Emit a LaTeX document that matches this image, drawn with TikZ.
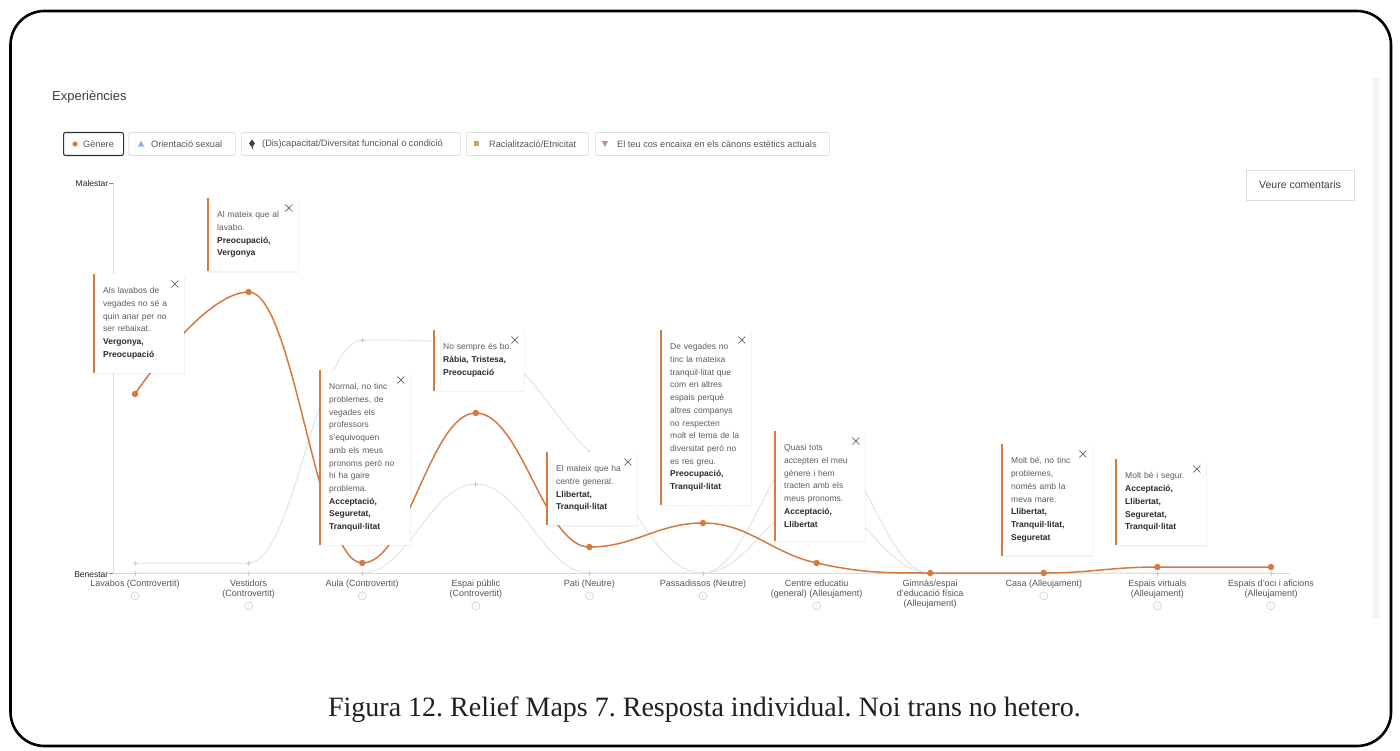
\documentclass[tikz,border=0pt]{standalone}
\usepackage{fontspec}
\setmainfont{Liberation Sans}
\newfontfamily\capfont{Liberation Serif}
\usetikzlibrary{shadows,calc}
\frenchspacing
\definecolor{orng}{HTML}{D5793F}
\definecolor{grayln}{HTML}{E4E4E4}
\definecolor{graymk}{HTML}{CCCCCC}
\definecolor{bodyc}{HTML}{5C5C5C}
\definecolor{boldc}{HTML}{2B2B2B}
\definecolor{axc}{HTML}{DADADA}
\definecolor{labc}{HTML}{555555}
\definecolor{headc}{HTML}{3F3F3F}
\definecolor{legbd}{HTML}{DDDDDD}
\definecolor{capc}{HTML}{231F20}
\definecolor{blueic}{HTML}{8DB3E2}
\definecolor{darkic}{HTML}{3A4A3A}
\definecolor{tanic}{HTML}{C9A45E}
\definecolor{pinkic}{HTML}{C48B9F}
\definecolor{stripc}{HTML}{F3F3F3}
\tikzset{
  tip/.style={anchor=north west, fill=white, text width=72pt, inner xsep=9pt, inner ysep=13.5pt, align=left, font=\fontsize{8.5}{12.7}\selectfont, text=bodyc, drop shadow={shadow xshift=0.6pt, shadow yshift=-1.6pt, opacity=0.10}},
  tipbar/.style={draw=orng, line width=2.4pt},
  closex/.style={draw=black!60, line width=0.6pt},
  grayline/.style={draw=grayln, line width=1pt},
  orngline/.style={draw=orng, line width=1.5pt},
  legbox/.style={draw=legbd, line width=0.7pt, rounded corners=1.5pt, minimum height=23pt, inner sep=0pt, anchor=west},
  legtxt/.style={font=\fontsize{9.2}{11}\selectfont, text=labc, inner sep=0pt, anchor=west},
  catlab/.style={font=\fontsize{9}{10}\selectfont, text=labc, align=center, inner sep=0pt, anchor=north},
  info/.style={circle, draw=graymk, line width=0.6pt, minimum size=8pt, inner sep=0pt},
  gmark/.style={draw=graymk, line width=0.8pt},
}
\newcommand\tipdeco[1]{%
  \draw[tipbar] (#1.north west) -- (#1.south west);
  \draw[closex] ($(#1.north east)+(-13,6.5)$) -- ++(7,7);
  \draw[closex] ($(#1.north east)+(-6,6.5)$) -- ++(-7,7);
}
\newcommand\gplus[2]{\draw[gmark] (#1-2.5,#2) -- (#1+2.5,#2) (#1,#2-2.5) -- (#1,#2+2.5);}
\begin{document}
\begin{tikzpicture}[x=1pt,y=-1pt]
\useasboundingbox (0,0) rectangle (1400,751);
\fill[white] (0,0) rectangle (1400,751);
% outer frame
\draw[line width=2.6pt, rounded corners=34pt] (10.5,11) rectangle (1391,746);
\fill[stripc] (1373,78) rectangle (1379,618);

% title
\node[anchor=west, font=\fontsize{13}{15}\selectfont, text=headc, inner sep=0pt] (title) at (52,97) {Experiències};

% legend
\node[legbox, draw=black!80, line width=1.1pt, rounded corners=2pt, minimum width=60pt] (lg1) at (63,144) {};
\node[legbox, minimum width=107pt] (lg2) at (128,144) {};
\node[legbox, minimum width=219pt] (lg3) at (241,144) {};
\node[legbox, minimum width=122pt] (lg4) at (466,144) {};
\node[legbox, minimum width=234pt] (lg5) at (595,144) {};
\fill[orng] (75,144) circle[radius=2.6pt];
\fill[blueic] (141,140.8) -- (144.2,146.6) -- (137.8,146.6) -- cycle;
\fill[darkic] (252,139.5) -- (255,143.5) -- (252,147.5) -- (249,143.5) -- cycle;
\draw[darkic, line width=0.8pt] (252,144) -- (252,149.5);
\fill[tanic] (473.5,141) rectangle (478.5,146);
\fill[pinkic] (601.8,141.2) -- (608.2,141.2) -- (605,146.8) -- cycle;
\node[legtxt] (lt1) at (83,144) {Gènere};
\node[legtxt] (lt2) at (151,144) {Orientació sexual};
\node[legtxt] (lt3) at (262,144) {(Dis)capacitat/Diversitat funcional o condició};
\node[legtxt] (lt4) at (489,144) {Racialització/Etnicitat};
\node[legtxt] (lt5) at (617,144) {El teu cos encaixa en els cànons estètics actuals};

% button
\node[draw=legbd, line width=0.8pt, minimum width=108pt, minimum height=30pt, font=\fontsize{10.5}{12}\selectfont, text=headc, drop shadow={shadow xshift=0.4pt, shadow yshift=-1pt, opacity=0.06}, fill=white] (btn) at (1300,185) {Veure comentaris};

% axes
\draw[axc, line width=0.8pt] (113,183) -- (113,573);
\draw[axc, line width=0.8pt] (113,573) -- (1290,573);
\draw[black!50, line width=0.6pt] (109,183) -- (113,183);
\draw[black!50, line width=0.6pt] (109,573) -- (113,573);
\node[anchor=east, font=\fontsize{8.5}{10}\selectfont, text=black!85, inner sep=0pt] (mal) at (108.5,183) {Malestar};
\node[anchor=east, font=\fontsize{8.5}{10}\selectfont, text=black!85, inner sep=0pt] (ben) at (108.5,575) {Benestar};

% gray series A
\draw[grayline] (135,563) -- (248.6,563)
  .. controls (294.04,563) and (316.76,340) .. (362.2,340)
  .. controls (407.64,340) and (430.36,340) .. (475.8,345)
  .. controls (521.24,350) and (543.96,406.4) .. (589.4,452)
  .. controls (634.84,497.6) and (657.56,573) .. (703,573)
  .. controls (748.44,573) and (771.16,440) .. (816.6,440)
  .. controls (862.04,440) and (884.76,573) .. (930.2,573)
  -- (1271,573);
% gray series B
\draw[grayline] (135,573) -- (362.2,573)
  .. controls (407.64,573) and (430.36,484) .. (475.8,484)
  .. controls (521.24,484) and (543.96,573) .. (589.4,573)
  -- (703,573)
  .. controls (748.44,573) and (771.16,500) .. (816.6,500)
  .. controls (862.04,500) and (884.76,573) .. (930.2,573)
  -- (1271,573);
\foreach \xx/\yy in {135/563,248.6/563,362.2/340,475.8/345,589.4/452,816.6/440,475.8/484,816.6/500,
  135/573,248.6/573,362.2/573,589.4/573,703/573,930.2/573,1043.8/573,1157.4/573,1271/573}{\gplus{\xx}{\yy}}

% orange series (Genere)
\draw[orngline] (135,394) .. controls (135,394) and (203.16,292) .. (248.6,292)
  .. controls (294.04,292) and (316.76,563) .. (362.2,563)
  .. controls (407.64,563) and (430.36,413) .. (475.8,413)
  .. controls (521.24,413) and (543.96,547) .. (589.4,547)
  .. controls (634.84,547) and (657.56,523) .. (703,523)
  .. controls (748.44,523) and (771.16,553) .. (816.6,563)
  .. controls (862.04,573) and (884.76,573) .. (930.2,573)
  -- (1043.8,573)
  .. controls (1089.24,573) and (1111.96,567) .. (1157.4,567)
  -- (1271,567);
\foreach \xx/\yy in {135/394,248.6/292,362.2/563,475.8/413,589.4/547,703/523,816.6/563,930.2/573,1043.8/573,1157.4/567,1271/567}{\fill[orng] (\xx,\yy) circle[radius=3.2pt];}

% category labels
\node[catlab] (x0) at (135,580) {Lavabos (Controvertit)};
\node[catlab] (x1) at (248.6,580) {Vestidors\\(Controvertit)};
\node[catlab] (x2) at (362.2,580) {Aula (Controvertit)};
\node[catlab] (x3) at (475.8,580) {Espai públic\\(Controvertit)};
\node[catlab] (x4) at (589.4,580) {Pati (Neutre)};
\node[catlab] (x5) at (703,580) {Passadissos (Neutre)};
\node[catlab] (x6) at (816.6,580) {Centre educatiu\\(general) (Alleujament)};
\node[catlab] (x7) at (930.2,580) {Gimnàs/espai\\d'educació física\\(Alleujament)};
\node[catlab] (x8) at (1043.8,580) {Casa (Alleujament)};
\node[catlab] (x9) at (1157.4,580) {Espais virtuals\\(Alleujament)};
\node[catlab] (x10) at (1271,580) {Espais d'oci i aficions\\(Alleujament)};
\foreach \n in {x0,x1,x2,x3,x4,x5,x6,x8,x9,x10}{
  \node[info, font=\fontsize{5}{5}\selectfont, text=graymk] (i\n) at ($(\n.south)+(0,7)$) {i};
}

% tooltips
\node[tip] (t1) at (94,274) {Als lavabos de\\vegades no sé a\\quin anar per no\\ser rebaixat.\\\textcolor{boldc}{\bfseries Vergonya,\\Preocupació}};
\tipdeco{t1}
\node[tip] (t2) at (208,198) {Al mateix que al\\lavabo.\\\textcolor{boldc}{\bfseries Preocupació,\\Vergonya}};
\tipdeco{t2}
\node[tip] (t3) at (320,370) {Normal, no tinc\\problemes, de\\vegades els\\professors\\s'equivoquen\\amb els meus\\pronoms però no\\hi ha gaire\\problema.\\\textcolor{boldc}{\bfseries Acceptació,\\Seguretat,\\Tranquil·litat}};
\tipdeco{t3}
\node[tip] (t4) at (434,330) {No sempre és bo.\\\textcolor{boldc}{\bfseries Ràbia, Tristesa,\\Preocupació}};
\tipdeco{t4}
\node[tip] (t5) at (547,452) {El mateix que ha\\centre general.\\\textcolor{boldc}{\bfseries Llibertat,\\Tranquil·litat}};
\tipdeco{t5}
\node[tip] (t6) at (661,330) {De vegades no\\tinc la mateixa\\tranquil·litat que\\com en altres\\espais perquè\\altres companys\\no respecten\\molt el tema de la\\diversitat però no\\es res greu.\\\textcolor{boldc}{\bfseries Preocupació,\\Tranquil·litat}};
\tipdeco{t6}
\node[tip] (t7) at (775,431) {Quasi tots\\accepten el meu\\gènere i hem\\tracten amb els\\meus pronoms.\\\textcolor{boldc}{\bfseries Acceptació,\\Llibertat}};
\tipdeco{t7}
\node[tip] (t8) at (1002,444) {Molt bé, no tinc\\problemes,\\només amb la\\meva mare.\\\textcolor{boldc}{\bfseries Llibertat,\\Tranquil·litat,\\Seguretat}};
\tipdeco{t8}
\node[tip] (t9) at (1116,459) {Molt bé i segur.\\\textcolor{boldc}{\bfseries Acceptació,\\Llibertat,\\Seguretat,\\Tranquil·litat}};
\tipdeco{t9}

% caption
\node[anchor=base, font=\capfont\fontsize{28}{32}\selectfont, text=capc, inner sep=0pt] (cap) at (704.5,716) {Figura 12. Relief Maps 7. Resposta individual. Noi trans no hetero.};
\end{tikzpicture}
\end{document}
